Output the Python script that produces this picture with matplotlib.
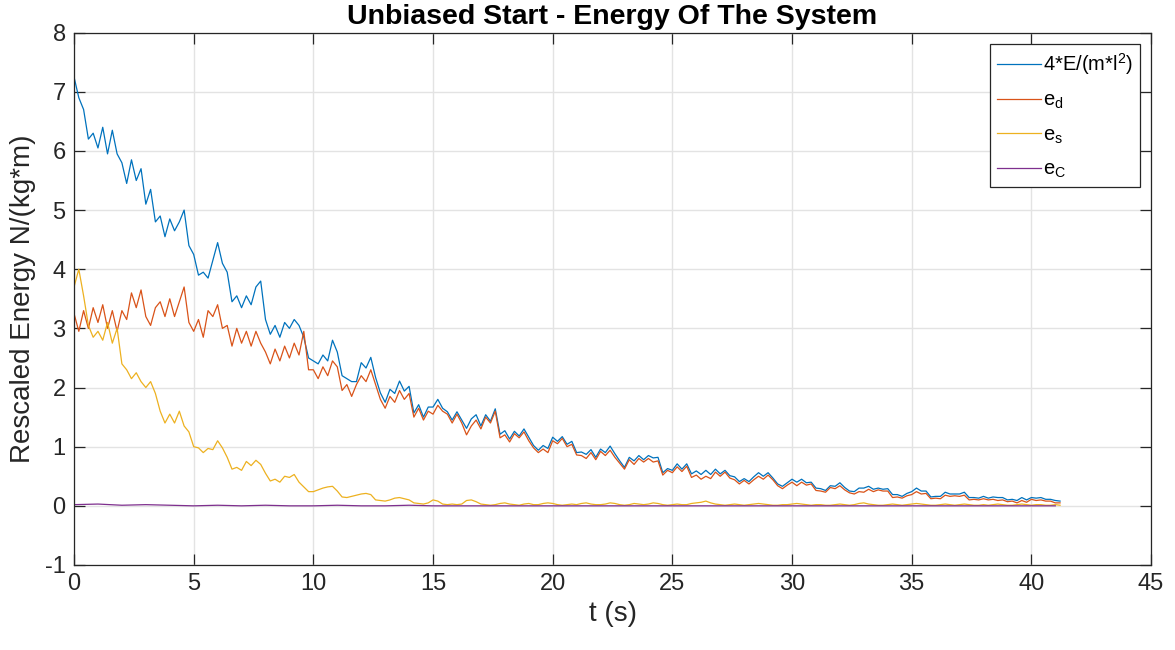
import numpy as np
import matplotlib
matplotlib.use("Agg")
import matplotlib.pyplot as plt

plt.rcParams['font.family'] = ['Liberation Sans', 'DejaVu Sans']
plt.rcParams['mathtext.default'] = 'regular'
plt.rcParams['axes.unicode_minus'] = False

# sample times (s), 0.2 s apart
t = np.arange(207) * 0.2

# total rescaled energy 4*E/(m*l^2)
E_tot = [
    7.25, 6.9, 6.7, 6.2, 6.3, 6.05, 6.4, 5.95, 6.35, 5.95,
    5.8, 5.45, 5.85, 5.5, 5.7, 5.1, 5.35, 4.8, 4.9, 4.55,
    4.85, 4.65, 4.8, 5.0, 4.4, 4.25, 3.9, 3.95, 3.85, 4.15,
    4.45, 4.1, 3.95, 3.45, 3.55, 3.35, 3.55, 3.4, 3.7, 3.8,
    3.15, 2.9, 3.05, 2.85, 3.1, 3.0, 3.15, 3.05, 2.85, 2.5,
    2.45, 2.4, 2.55, 2.45, 2.8, 2.6, 2.2, 2.15, 2.1, 2.1,
    2.42, 2.33, 2.51, 2.17, 1.91, 1.75, 1.97, 1.9, 2.11, 1.94,
    2.02, 1.57, 1.71, 1.5, 1.67, 1.67, 1.8, 1.65, 1.59, 1.45,
    1.59, 1.45, 1.31, 1.47, 1.54, 1.35, 1.54, 1.43, 1.64, 1.21,
    1.27, 1.13, 1.26, 1.18, 1.3, 1.16, 1.02, 0.94, 1.02, 0.97,
    1.16, 1.09, 1.17, 1.04, 1.09, 0.9, 0.91, 0.87, 0.95, 0.82,
    0.96, 0.9, 1.01, 0.88, 0.76, 0.65, 0.82, 0.76, 0.85, 0.78,
    0.85, 0.81, 0.82, 0.56, 0.63, 0.6, 0.71, 0.62, 0.71, 0.54,
    0.59, 0.53, 0.6, 0.53, 0.62, 0.54, 0.6, 0.51, 0.49, 0.41,
    0.46, 0.41, 0.49, 0.56, 0.5, 0.56, 0.47, 0.37, 0.33, 0.39,
    0.45, 0.4, 0.45, 0.39, 0.4, 0.3, 0.29, 0.26, 0.34, 0.33,
    0.39, 0.31, 0.25, 0.24, 0.3, 0.3, 0.33, 0.28, 0.3, 0.28,
    0.29, 0.19, 0.19, 0.16, 0.21, 0.24, 0.3, 0.25, 0.25, 0.15,
    0.16, 0.16, 0.23, 0.2, 0.2, 0.2, 0.23, 0.14, 0.14, 0.13,
    0.16, 0.13, 0.15, 0.14, 0.14, 0.1, 0.11, 0.09, 0.14, 0.1,
    0.14, 0.13, 0.14, 0.11, 0.11, 0.09, 0.08,
]

# e_d
e_d = [
    3.25, 2.95, 3.3, 3.0, 3.35, 3.1, 3.4, 3.0, 3.3, 2.95,
    3.3, 3.15, 3.6, 3.35, 3.65, 3.2, 3.05, 3.35, 3.45, 3.2,
    3.5, 3.2, 3.45, 3.7, 3.1, 2.95, 3.15, 2.85, 3.3, 3.2,
    3.4, 3.0, 3.05, 2.7, 3.0, 2.75, 2.95, 2.7, 2.95, 2.75,
    2.6, 2.4, 2.65, 2.45, 2.7, 2.5, 2.75, 2.55, 2.95, 2.3,
    2.3, 2.15, 2.35, 2.2, 2.45, 2.35, 1.95, 2.05, 1.85, 2.05,
    2.2, 2.1, 2.3, 2.05, 1.8, 1.65, 1.85, 1.75, 1.95, 1.8,
    1.9, 1.5, 1.65, 1.45, 1.6, 1.55, 1.7, 1.6, 1.55, 1.4,
    1.55, 1.4, 1.2, 1.35, 1.45, 1.3, 1.5, 1.4, 1.6, 1.15,
    1.2, 1.08, 1.22, 1.15, 1.25, 1.1, 0.98, 0.9, 0.96, 0.9,
    1.1, 1.05, 1.14, 1.0, 1.04, 0.86, 0.85, 0.8, 0.9, 0.78,
    0.92, 0.85, 0.94, 0.82, 0.72, 0.62, 0.78, 0.7, 0.8, 0.74,
    0.8, 0.74, 0.76, 0.52, 0.6, 0.56, 0.66, 0.58, 0.67, 0.48,
    0.52, 0.45, 0.5, 0.46, 0.57, 0.5, 0.57, 0.47, 0.44, 0.37,
    0.43, 0.37, 0.44, 0.5, 0.45, 0.52, 0.44, 0.34, 0.29, 0.35,
    0.4, 0.34, 0.4, 0.35, 0.37, 0.26, 0.25, 0.23, 0.31, 0.29,
    0.34, 0.27, 0.22, 0.2, 0.24, 0.23, 0.28, 0.24, 0.27, 0.25,
    0.25, 0.14, 0.15, 0.13, 0.17, 0.19, 0.24, 0.2, 0.21, 0.12,
    0.13, 0.12, 0.18, 0.16, 0.17, 0.16, 0.18, 0.1, 0.11, 0.1,
    0.12, 0.1, 0.11, 0.09, 0.1, 0.07, 0.08, 0.05, 0.09, 0.06,
    0.11, 0.09, 0.1, 0.08, 0.08, 0.05, 0.05,
]

# e_s
e_s = [
    3.7, 4.0, 3.55, 3.05, 2.85, 2.95, 2.8, 3.1, 2.75, 3.0,
    2.4, 2.3, 2.15, 2.25, 2.1, 2.0, 2.1, 1.9, 1.6, 1.4,
    1.55, 1.4, 1.6, 1.35, 1.25, 1.0, 0.98, 0.9, 0.97, 0.95,
    1.1, 0.98, 0.82, 0.62, 0.65, 0.6, 0.75, 0.68, 0.77, 0.7,
    0.55, 0.42, 0.45, 0.4, 0.5, 0.48, 0.53, 0.4, 0.32, 0.24,
    0.24, 0.27, 0.3, 0.32, 0.33, 0.25, 0.15, 0.14, 0.16, 0.18,
    0.2, 0.21, 0.19, 0.1, 0.09, 0.08, 0.1, 0.13, 0.14, 0.12,
    0.1, 0.05, 0.04, 0.03, 0.05, 0.1, 0.08, 0.03, 0.02, 0.03,
    0.02, 0.03, 0.09, 0.1, 0.07, 0.03, 0.02, 0.01, 0.02, 0.04,
    0.05, 0.03, 0.02, 0.01, 0.03, 0.04, 0.02, 0.02, 0.04, 0.05,
    0.04, 0.02, 0.01, 0.02, 0.03, 0.02, 0.04, 0.05, 0.03, 0.02,
    0.02, 0.03, 0.05, 0.04, 0.02, 0.01, 0.02, 0.04, 0.03, 0.02,
    0.03, 0.05, 0.04, 0.02, 0.01, 0.02, 0.03, 0.02, 0.02, 0.04,
    0.05, 0.06, 0.08, 0.05, 0.03, 0.02, 0.01, 0.02, 0.03, 0.02,
    0.01, 0.02, 0.03, 0.04, 0.03, 0.02, 0.01, 0.01, 0.02, 0.02,
    0.03, 0.04, 0.03, 0.02, 0.01, 0.02, 0.02, 0.01, 0.01, 0.02,
    0.03, 0.02, 0.01, 0.02, 0.04, 0.05, 0.03, 0.02, 0.01, 0.01,
    0.02, 0.03, 0.02, 0.01, 0.02, 0.03, 0.04, 0.03, 0.02, 0.01,
    0.01, 0.02, 0.03, 0.02, 0.01, 0.02, 0.03, 0.02, 0.01, 0.01,
    0.02, 0.01, 0.02, 0.03, 0.02, 0.01, 0.01, 0.02, 0.03, 0.02,
    0.01, 0.02, 0.02, 0.01, 0.01, 0.02, 0.01,
]

# e_C, sampled once a second
t_c = np.arange(42) * 1.0
e_C = [
    0.02, 0.03, 0.01, 0.02, 0.01, 0.0, 0.01, 0.0, 0.01, 0.0,
    0.0, 0.01, 0.0, 0.0, 0.01, 0.0, 0.0, 0.0, 0.0, 0.0,
    0.0, 0.0, 0.0, 0.0, 0.0, 0.0, 0.0, 0.0, 0.0, 0.0,
    0.0, 0.0, 0.0, 0.0, 0.0, 0.0, 0.0, 0.0, 0.0, 0.0,
    0.0, 0.0,
]

labels = ['4*E/(m*l$^2$)', 'e$_d$', 'e$_s$', 'e$_C$']
colors = ['#0072BD', '#D95319', '#EDB120', '#7E2F8E']
dark = '#262626'

fig = plt.figure(figsize=(11.75, 6.5), dpi=100)
ax = fig.add_axes([0.063, 0.1308, 0.9166, 0.819])

ax.plot(t, E_tot, color=colors[0], lw=0.9, label=labels[0])
ax.plot(t, e_d, color=colors[1], lw=0.9, label=labels[1])
ax.plot(t, e_s, color=colors[2], lw=0.9, label=labels[2])
ax.plot(t_c, e_C, color=colors[3], lw=0.9, label=labels[3])

ax.set_xlim(0, 45)
ax.set_ylim(-1, 8)
ax.set_xticks(np.arange(0, 46, 5))
ax.set_yticks(np.arange(-1, 9, 1))
ax.grid(True, color='#e3e3e3', lw=1.0)
ax.set_axisbelow(True)
ax.tick_params(direction='in', length=8, width=0.9, colors=dark,
               labelsize=17, top=True, right=True, pad=6)
for s in ax.spines.values():
    s.set_color(dark)
    s.set_linewidth(0.9)

ax.set_xlabel('t (s)', fontsize=20, color=dark, labelpad=4)
ax.set_ylabel('Rescaled Energy N/(kg*m)', fontsize=20, color=dark, labelpad=6)
ax.set_title('Unbiased Start - Energy Of The System', fontsize=20.5,
             fontweight='bold', color='black', pad=6)

leg = ax.legend(loc='upper right', bbox_to_anchor=(0.9898, 0.9786),
                borderaxespad=0, fontsize=14.5, fancybox=False,
                edgecolor=dark, framealpha=1, handlelength=2.2,
                labelspacing=0.7, handletextpad=0.1, borderpad=0.35)
leg.get_frame().set_linewidth(0.9)

fig.savefig('out.png', dpi=100)
